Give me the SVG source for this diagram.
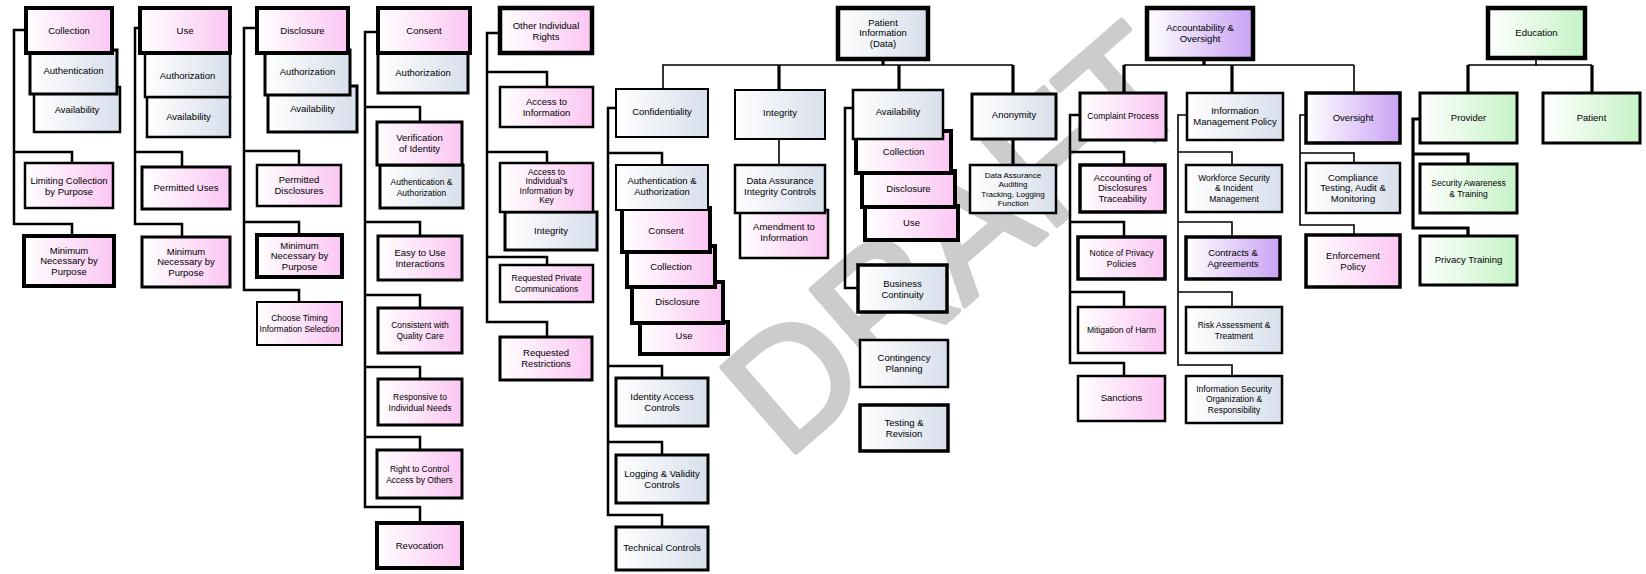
<svg xmlns="http://www.w3.org/2000/svg" width="1646" height="574" viewBox="0 0 1646 574">
<defs>
<linearGradient id="gp" x1="0" y1="0" x2="1" y2="0"><stop offset="0" stop-color="#ffffff"/><stop offset="1" stop-color="#fbc6f3"/></linearGradient>
<linearGradient id="gb" x1="0" y1="0" x2="1" y2="0"><stop offset="0" stop-color="#ffffff"/><stop offset="1" stop-color="#d8dfeb"/></linearGradient>
<linearGradient id="gv" x1="0" y1="0" x2="1" y2="0"><stop offset="0" stop-color="#ffffff"/><stop offset="1" stop-color="#c9a2f4"/></linearGradient>
<linearGradient id="gg" x1="0" y1="0" x2="1" y2="0"><stop offset="0" stop-color="#ffffff"/><stop offset="1" stop-color="#c6f3c6"/></linearGradient>
</defs>
<style>
rect{stroke:#000;stroke-width:3}
.p{fill:url(#gp)} .b{fill:url(#gb)} .v{fill:url(#gv)} .g{fill:url(#gg)}
.w2{stroke-width:2} .w25{stroke-width:2.5} .w35{stroke-width:3.5} .w4{stroke-width:4} .w45{stroke-width:4.5}
text{font-family:"Liberation Sans",Arial,sans-serif;font-size:9.5px;text-anchor:middle;fill:#000}
.sm{font-size:8.5px} .xs{font-size:8px}
#connectors path{fill:none;stroke:#000;stroke-width:2.5}
#connectors .th{stroke-width:1.6} #connectors .tk{stroke-width:3.2}
.wm{font-family:"Liberation Sans",Arial,sans-serif;font-size:164px;fill:#cccccc;stroke:#cccccc;stroke-width:5;stroke-linejoin:round;text-anchor:middle}
</style>
<rect x="0" y="0" width="1646" height="574" fill="#ffffff" style="stroke:none"/>
<text class="wm" x="992" y="282" transform="rotate(-41 992 282)">DRAFT</text>

<g id="connectors">
<path d="M26,30 H14 V224 H72 V236 M14,152 H72 V163"/>
<path d="M140,28 H135 V224 H182 V237 M135,152 H182 V167"/>
<path d="M257,28 H244 V290 H299 V302 M244,151 H299 V165 M244,222 H299 V235"/>
<path d="M378,32 H365 V507 H420 V523 M365,107 H420 V122 M365,222 H420 V236 M365,295 H420 V308 M365,367 H420 V379 M365,437 H420 V450"/>
<path d="M500,33 H487 V322 H547 V337 M487,72 H547 V87 M487,152 H547 V163 M487,257 H547 V265"/>
<path class="tk" d="M883,59 V65"/>
<path class="th" d="M663,89 V65 H1013"/>
<path class="tk" d="M779,65 V90 M899,65 V90 M1013,65 V94"/>
<path d="M616,108 H608 V515 H662 V527 M608,153 H662 V165 M608,366 H662 V378 M608,442 H662 V455"/>
<path class="th" d="M779,139 V165"/>
<path d="M853,108 H845 V288 H858"/>
<path class="tk" d="M1013,139 V165"/>
<path class="tk" d="M1204,59 V65"/>
<path class="th" d="M1124,65 H1354"/>
<path class="tk" d="M1124,65 V93 M1232,65 V93"/>
<path class="th" d="M1354,65 V93"/>
<path d="M1080,115 H1070 V363 H1124 V376 M1070,152 H1124 V165 M1070,222 H1124 V237 M1070,292 H1124 V307"/>
<path class="th" d="M1187,115 H1178 V365 H1232 V376 M1178,152 H1232 V165 M1178,222 H1232 V237 M1178,292 H1232 V307"/>
<path class="th" d="M1306,115 H1300 V225 H1354 V235 M1300,153 H1354 V163"/>
<path class="th" d="M1536,58 V65 M1468,65 H1592"/>
<path class="tk" d="M1468,65 V93 M1592,65 V93"/>
<path class="tk" d="M1420,119 H1413 V228 H1468 V236 M1413,154 H1468 V164"/>
</g>

<!-- Column: Collection -->
<g id="col-availability"><rect class="b w25" x="34" y="87" width="86" height="45"/><text x="77" y="113.4">Availability</text></g>
<g id="col-authentication"><rect class="b" x="30" y="50" width="87" height="44"/><text x="73.5" y="74.4">Authentication</text></g>
<g id="collection"><rect class="p w4" x="26" y="8" width="86" height="45"/><text x="69" y="34.4">Collection</text></g>
<g id="limiting-collection"><rect class="p w25" x="25" y="163" width="88" height="45"/><text x="69" y="184.15">Limiting Collection<tspan x="69" dy="10.5">by Purpose</tspan></text></g>
<g id="min-necessary-1"><rect class="p w4" x="24" y="236" width="90" height="50"/><text x="69" y="253.9">Minimum<tspan x="69" dy="10.5">Necessary by</tspan><tspan x="69" dy="10.5">Purpose</tspan></text></g>

<!-- Column: Use -->
<g id="use-availability"><rect class="b w25" x="147" y="97" width="83" height="40"/><text x="188.5" y="120.4">Availability</text></g>
<g id="use-authorization"><rect class="b w25" x="145" y="53" width="85" height="44"/><text x="187.5" y="79.4">Authorization</text></g>
<g id="use"><rect class="p w4" x="140" y="8" width="90" height="45"/><text x="185" y="34.4">Use</text></g>
<g id="permitted-uses"><rect class="p" x="142" y="167" width="88" height="42"/><text x="186" y="191.4">Permitted Uses</text></g>
<g id="min-necessary-2"><rect class="p" x="142" y="237" width="88" height="50"/><text x="186" y="254.9">Minimum<tspan x="186" dy="10.5">Necessary by</tspan><tspan x="186" dy="10.5">Purpose</tspan></text></g>

<!-- Column: Disclosure -->
<g id="disc-availability"><rect class="b" x="268" y="86" width="89" height="46"/><text x="312.5" y="112.4">Availability</text></g>
<g id="disc-authorization"><rect class="b" x="265" y="50" width="85" height="45"/><text x="307.5" y="75.4">Authorization</text></g>
<g id="disclosure"><rect class="p w4" x="257" y="8" width="91" height="45"/><text x="302.5" y="34.4">Disclosure</text></g>
<g id="permitted-disclosures"><rect class="p w25" x="257" y="165" width="84" height="41"/><text x="299" y="183.15">Permitted<tspan x="299" dy="10.5">Disclosures</tspan></text></g>
<g id="min-necessary-3"><rect class="p w4" x="257" y="235" width="85" height="42"/><text x="299.5" y="248.9">Minimum<tspan x="299.5" dy="10.5">Necessary by</tspan><tspan x="299.5" dy="10.5">Purpose</tspan></text></g>
<g id="choose-timing"><rect class="p w2" x="257" y="302" width="85" height="43"/><text class="sm" x="299.5" y="321.15">Choose Timing<tspan x="299.5" dy="10.5">Information Selection</tspan></text></g>

<!-- Column: Consent -->
<g id="cons-authorization"><rect class="b" x="378" y="53" width="90" height="40"/><text x="423" y="76.4">Authorization</text></g>
<g id="consent"><rect class="p w4" x="378" y="8" width="92" height="45"/><text x="424" y="34.4">Consent</text></g>
<g id="cons-authauth"><rect class="b" x="380" y="165" width="83" height="43"/><text class="sm" x="421.5" y="185.15">Authentication &amp;<tspan x="421.5" dy="10.5">Authorization</tspan></text></g>
<g id="verification"><rect class="p" x="377" y="122" width="85" height="43"/><text x="419.5" y="141.15">Verification<tspan x="419.5" dy="10.5">of Identity</tspan></text></g>
<g id="easy-to-use"><rect class="p" x="378" y="236" width="84" height="44"/><text x="420" y="256.15">Easy to Use<tspan x="420" dy="10.5">Interactions</tspan></text></g>
<g id="consistent"><rect class="p" x="378" y="308" width="84" height="45"/><text class="sm" x="420" y="328.15">Consistent with<tspan x="420" dy="10.5">Quality Care</tspan></text></g>
<g id="responsive"><rect class="p" x="378" y="379" width="84" height="46"/><text class="sm" x="420" y="400.15">Responsive to<tspan x="420" dy="10.5">Individual Needs</tspan></text></g>
<g id="right-to-control"><rect class="p" x="377" y="450" width="85" height="48"/><text class="sm" x="419.5" y="472.15">Right to Control<tspan x="419.5" dy="10.5">Access by Others</tspan></text></g>
<g id="revocation"><rect class="p w4" x="377" y="523" width="85" height="45"/><text x="419.5" y="549.4">Revocation</text></g>

<!-- Column: Other Individual Rights -->
<g id="other-rights"><rect class="p w45" x="500" y="8" width="92" height="45"/><text x="546" y="29.15">Other Individual<tspan x="546" dy="10.5">Rights</tspan></text></g>
<g id="access-info"><rect class="p w25" x="500" y="87" width="93" height="40"/><text x="546.5" y="105.15">Access to<tspan x="546.5" dy="10.5">Information</tspan></text></g>
<g id="oir-integrity"><rect class="b" x="505" y="212" width="92" height="38"/><text x="551" y="234.4">Integrity</text></g>
<g id="access-key"><rect class="p w25" x="500" y="163" width="93" height="49"/><text class="sm" x="546.5" y="174.75">Access to<tspan x="546.5" dy="9.5">Individual's</tspan><tspan x="546.5" dy="9.5">Information by</tspan><tspan x="546.5" dy="9.5">Key</tspan></text></g>
<g id="requested-comm"><rect class="p w25" x="500" y="265" width="93" height="37"/><text class="sm" x="546.5" y="281.15">Requested Private<tspan x="546.5" dy="10.5">Communications</tspan></text></g>
<g id="requested-restr"><rect class="p" x="500" y="337" width="92" height="43"/><text x="546" y="356.15">Requested<tspan x="546" dy="10.5">Restrictions</tspan></text></g>

<!-- Patient Information -->
<g id="patient-info"><rect class="b w45" x="838" y="8" width="90" height="51"/><text x="883" y="25.9">Patient<tspan x="883" dy="10.5">Information</tspan><tspan x="883" dy="10.5">(Data)</tspan></text></g>
<g id="c-use"><rect class="p w4" x="640" y="322" width="88" height="32"/><text x="684" y="339.4">Use</text></g>
<g id="c-disclosure"><rect class="p w4" x="632" y="282" width="91" height="41"/><text x="677.5" y="305.4">Disclosure</text></g>
<g id="c-collection"><rect class="p w4" x="627" y="246" width="88" height="41"/><text x="671" y="270.4">Collection</text></g>
<g id="c-consent"><rect class="p w4" x="622" y="208" width="88" height="44"/><text x="666" y="234.4">Consent</text></g>
<g id="c-authauth"><rect class="b w2" x="616" y="165" width="92" height="45"/><text x="662" y="184.15">Authentication &amp;<tspan x="662" dy="10.5">Authorization</tspan></text></g>
<g id="confidentiality"><rect class="b w2" x="616" y="89" width="92" height="48"/><text x="662" y="115.4">Confidentiality</text></g>
<g id="identity-access"><rect class="b" x="616" y="378" width="92" height="48"/><text x="662" y="400.15">Identity Access<tspan x="662" dy="10.5">Controls</tspan></text></g>
<g id="logging-validity"><rect class="b" x="616" y="455" width="92" height="48"/><text x="662" y="477.15">Logging &amp; Validity<tspan x="662" dy="10.5">Controls</tspan></text></g>
<g id="technical"><rect class="b" x="616" y="527" width="92" height="43"/><text x="662" y="551.4">Technical Controls</text></g>
<g id="amendment"><rect class="p w25" x="740" y="210" width="88" height="48"/><text x="784" y="230.15">Amendment to<tspan x="784" dy="10.5">Information</tspan></text></g>
<g id="data-assurance"><rect class="b w25" x="735" y="165" width="90" height="48"/><text x="780" y="184.15">Data Assurance<tspan x="780" dy="10.5">Integrity Controls</tspan></text></g>
<g id="integrity"><rect class="b w2" x="735" y="90" width="90" height="49"/><text x="780" y="116.4">Integrity</text></g>
<g id="a-use"><rect class="p w4" x="865" y="206" width="93" height="34"/><text x="911.5" y="226.4">Use</text></g>
<g id="a-disclosure"><rect class="p w4" x="862" y="171" width="93" height="36"/><text x="908.5" y="192.4">Disclosure</text></g>
<g id="a-collection"><rect class="p w4" x="856" y="131" width="95" height="42"/><text x="903.5" y="155.4">Collection</text></g>
<g id="availability"><rect class="b w25" x="853" y="90" width="90" height="49"/><text x="898" y="115.4">Availability</text></g>
<g id="business-continuity"><rect class="b w35" x="858" y="265" width="89" height="47"/><text x="902.5" y="287.15">Business<tspan x="902.5" dy="10.5">Continuity</tspan></text></g>
<g id="contingency"><rect class="b w25" x="860" y="340" width="88" height="47"/><text x="904" y="361.15">Contingency<tspan x="904" dy="10.5">Planning</tspan></text></g>
<g id="testing-revision"><rect class="b w35" x="860" y="405" width="88" height="46"/><text x="904" y="426.15">Testing &amp;<tspan x="904" dy="10.5">Revision</tspan></text></g>
<g id="anonymity"><rect class="b" x="972" y="94" width="84" height="45"/><text x="1014" y="118.4">Anonymity</text></g>
<g id="anon-data"><rect class="b w25" x="970" y="165" width="86" height="48"/><text class="xs" x="1013" y="177.75">Data Assurance<tspan x="1013" dy="9.5">Auditing</tspan><tspan x="1013" dy="9.5">Tracking, Logging</tspan><tspan x="1013" dy="9.5">Function</tspan></text></g>

<!-- Accountability & Oversight -->
<g id="accountability"><rect class="v w45" x="1147" y="8" width="106" height="51"/><text x="1200" y="31.15">Accountability &amp;<tspan x="1200" dy="10.5">Oversight</tspan></text></g>
<g id="complaint"><rect class="p" x="1080" y="93" width="86" height="47"/><text class="sm" x="1123" y="119.4">Complaint Process</text></g>
<g id="accounting"><rect class="p w35" x="1080" y="165" width="85" height="47"/><text x="1122.5" y="180.9">Accounting of<tspan x="1122.5" dy="10.5">Disclosures</tspan><tspan x="1122.5" dy="10.5">Traceability</tspan></text></g>
<g id="notice"><rect class="p w35" x="1078" y="237" width="87" height="42"/><text class="sm" x="1121.5" y="256.15">Notice of Privacy<tspan x="1121.5" dy="10.5">Policies</tspan></text></g>
<g id="mitigation"><rect class="p w25" x="1078" y="307" width="87" height="46"/><text class="sm" x="1121.5" y="333.4">Mitigation of Harm</text></g>
<g id="sanctions"><rect class="p w25" x="1078" y="376" width="87" height="45"/><text x="1121.5" y="401.4">Sanctions</text></g>
<g id="info-mgmt"><rect class="b w25" x="1187" y="93" width="96" height="47"/><text x="1235" y="114.15">Information<tspan x="1235" dy="10.5">Management Policy</tspan></text></g>
<g id="workforce"><rect class="b w25" x="1186" y="165" width="96" height="47"/><text class="sm" x="1234" y="180.9">Workforce Security<tspan x="1234" dy="10.5">&amp; Incident</tspan><tspan x="1234" dy="10.5">Management</tspan></text></g>
<g id="contracts"><rect class="v w35" x="1186" y="237" width="94" height="42"/><text x="1233" y="256.15">Contracts &amp;<tspan x="1233" dy="10.5">Agreements</tspan></text></g>
<g id="risk"><rect class="b w25" x="1186" y="307" width="96" height="46"/><text class="sm" x="1234" y="328.15">Risk Assessment &amp;<tspan x="1234" dy="10.5">Treatment</tspan></text></g>
<g id="infosec"><rect class="b w25" x="1186" y="376" width="96" height="47"/><text class="sm" x="1234" y="391.9">Information Security<tspan x="1234" dy="10.5">Organization &amp;</tspan><tspan x="1234" dy="10.5">Responsibility</tspan></text></g>
<g id="oversight"><rect class="v w35" x="1306" y="93" width="94" height="50"/><text x="1353" y="121.4">Oversight</text></g>
<g id="compliance"><rect class="b w25" x="1306" y="163" width="94" height="50"/><text x="1353" y="180.9">Compliance<tspan x="1353" dy="10.5">Testing, Audit &amp;</tspan><tspan x="1353" dy="10.5">Monitoring</tspan></text></g>
<g id="enforcement"><rect class="p w35" x="1306" y="235" width="94" height="52"/><text x="1353" y="259.15">Enforcement<tspan x="1353" dy="10.5">Policy</tspan></text></g>

<!-- Education -->
<g id="education"><rect class="g w45" x="1488" y="8" width="97" height="50"/><text x="1536.5" y="36.4">Education</text></g>
<g id="provider"><rect class="g" x="1420" y="93" width="97" height="50"/><text x="1468.5" y="121.4">Provider</text></g>
<g id="patient"><rect class="g" x="1543" y="93" width="97" height="50"/><text x="1591.5" y="121.4">Patient</text></g>
<g id="security-awareness"><rect class="g" x="1420" y="164" width="97" height="49"/><text class="sm" x="1468.5" y="186.15">Security Awareness<tspan x="1468.5" dy="10.5">&amp; Training</tspan></text></g>
<g id="privacy-training"><rect class="g" x="1420" y="236" width="97" height="49"/><text x="1468.5" y="263.4">Privacy Training</text></g>
</svg>
